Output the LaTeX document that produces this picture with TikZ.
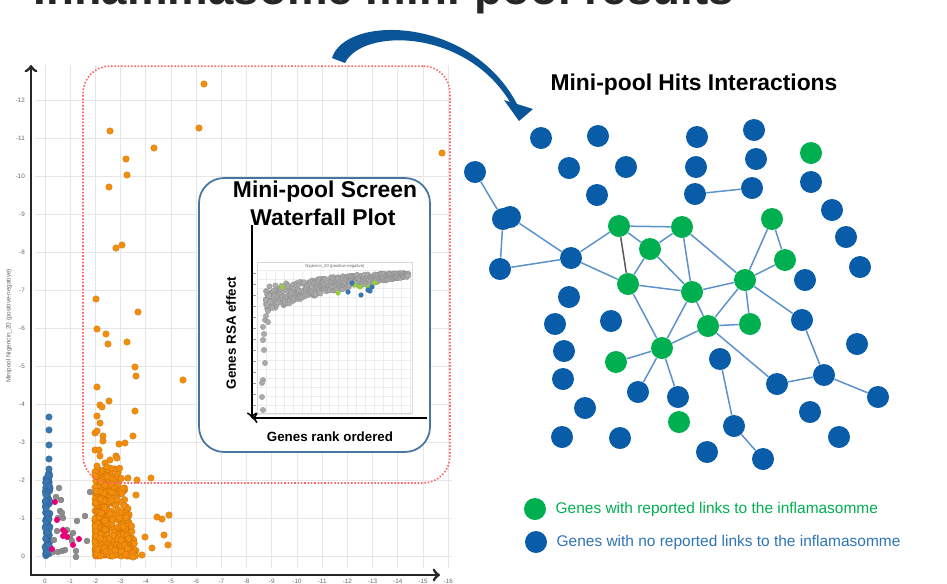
\documentclass[tikz,border=0pt]{standalone}
\usepackage{fontspec}
\setmainfont{Liberation Sans}
\usetikzlibrary{positioning}

\definecolor{netblue}{RGB}{8,92,168}
\definecolor{netgreen}{RGB}{0,176,80}
\definecolor{linkblue}{RGB}{92,146,204}
\definecolor{hitorange}{RGB}{242,142,12}
\definecolor{hitedge}{RGB}{205,110,0}
\definecolor{ctrlblue}{RGB}{58,118,178}
\definecolor{ctrlpink}{RGB}{232,0,122}
\definecolor{arcblue}{RGB}{10,84,152}
\definecolor{insetblue}{RGB}{70,118,160}
\definecolor{legblue}{RGB}{46,117,182}
\definecolor{gridgray}{RGB}{230,230,230}
\definecolor{boxred}{RGB}{255,100,100}
\definecolor{limegreen}{RGB}{150,205,60}

\begin{document}
\begin{tikzpicture}[
  x=0.02cm, y=-0.02cm,
  bnode/.style={circle,fill=netblue,minimum size=4.4mm,inner sep=0pt},
  gnode/.style={circle,fill=netgreen,minimum size=4.4mm,inner sep=0pt},
  link/.style={draw=linkblue,line width=0.85pt},
  tick/.style={font=\fontsize{3.6}{4}\selectfont,text=black!60,inner sep=0.5pt},
  head/.style={font=\bfseries\fontsize{13}{15}\selectfont,inner sep=0pt},
  axlbl/.style={font=\bfseries\fontsize{7.6}{9}\selectfont,inner sep=0pt},
  legtxt/.style={font=\fontsize{8.8}{10}\selectfont,inner sep=0pt},
  hitdot/.style={fill=hitorange,draw=hitedge,line width=0.15pt},
  ctrldot/.style={fill=ctrlblue,draw=ctrlblue!80!black,line width=0.15pt},
  greydot/.style={fill=black!45,draw=black!55,line width=0.15pt},
  wfdot/.style={fill=black!33,draw=black!45,line width=0.15pt}
  ]
  \clip (0,0) rectangle (947,583);

  % page title, cut by the top edge
  \node (pgttl) [anchor=base west,inner sep=0pt,text=black!85,
    font=\bfseries\fontsize{26}{30}\selectfont] at (33,4) {Inflammasome mini-pool results};

  % scatter plot grid and ticks
  \foreach \k in {0,...,16}
    \draw[gridgray,line width=0.4pt] (45+25.2*\k,65) -- (45+25.2*\k,568);
  \foreach \k in {0,...,12}
    \draw[gridgray,line width=0.4pt] (35,556-38*\k) -- (452,556-38*\k);
  \foreach \k in {0,...,12}
    \node[tick,anchor=east] at (26,556-38*\k) {\ifnum\k=0 0\else -\k\fi};
  \foreach \k in {0,...,16}
    \node[tick,anchor=north] at (45+25.2*\k,578) {\ifnum\k=0 0\else -\k\fi};
  \node (ylbl) [tick,rotate=90] at (9,326) {Minipool Nigericin\_20 (positive-negative)};

  % control genes
  \pgfmathsetseed{7}
  \foreach \i in {1,...,70}{
    \pgfmathsetmacro\sy{556-84*rnd}
    \pgfmathsetmacro\sx{45+5*rnd}
    \path[ctrldot] (\sx,\sy) circle (3.3);
  }
  \foreach \px/\py in {49/417,49/430,49/445,49/459,49/469,48/475}
    \path[ctrldot] (\px,\py) circle (3.3);
  \foreach \px/\py in {59/488,56/497,61/500,90/492,60/511,62/513,63/518,58/518,77/521,
      85/516,57/531,67/530,73/533,70/537,72/541,87/541,54/540,58/552,62/551,65/550,
      76/551,76/557,53/552}
    \path[greydot] (\px,\py) circle (3);
  \foreach \px/\py in {55/502,57/520,63/530,65/532,63/536,67/537,73/545,79/539,52/549}
    \path[fill=ctrlpink] (\px,\py) circle (3);

  % hits
  \foreach \i in {1,...,430}{
    \pgfmathsetmacro\v{rnd}
    \pgfmathsetmacro\u{rnd}
    \pgfmathsetmacro\sy{556-88*\v^1.5}
    \pgfmathsetmacro\sx{95+(42-16*(556-\sy)/88)*\u^1.4}
    \path[hitdot] (\sx,\sy) circle (3.3);
  }
  \foreach \px/\py in {204/84,199/128,110/131,154/148,126/159,127/175,109/187,122/245,
      116/248,96/299,138/312,442/153,97/329,106/334,108/344,127/342,135/367,136/376,
      183/380,97/387,100/405,102/407,109/401,135/411,97/416,100/423,95/433,97/431,
      103/436,133/436,103/441,119/444,125/443,95/450,99/450,100/456,116/456,117/458,
      110/460,105/463,97/466,107/467,151/478,157/517,162/519,169/515,164/535,168/545,
      145/537,152/548,142/555,133/557,137/480,128/478,136/495}
    \path[hitdot] (\px,\py) circle (3.3);

  \node (hitbox) [draw=boxred,densely dotted,line width=0.9pt,rounded corners=0.54cm,
    minimum width=7.34cm,minimum height=8.34cm] at (266.5,274.5) {};
  \draw[line width=1.6pt,<->,black!85] (31,65) -- (31,575) -- (440,575);

  % waterfall inset
  \node (wfbox) [draw=insetblue,fill=white,line width=1pt,rounded corners=0.5cm,
    minimum width=4.62cm,minimum height=5.48cm] at (314.5,315) {};
  \node (wft1) [head,anchor=base] at (325,197) {Mini-pool Screen};
  \node (wft2) [head,anchor=base] at (323,225) {Waterfall Plot};

  \foreach \k in {0,...,17}
    \draw[black!7,line width=0.2pt] (257+9*\k,270) -- (257+9*\k,413);
  \foreach \k in {0,...,16}
    \draw[black!7,line width=0.2pt] (257,270+9*\k) -- (412,270+9*\k);
  \draw[black!15,line width=0.3pt] (257,262) rectangle (412,413);
  \node (wfsub) [font=\fontsize{2.4}{3}\selectfont,text=black!60,inner sep=0pt] at (335,266)
    {Nigericin\_20 (positive-negative)};
  \foreach \k in {0,...,12}
    \draw[black!40,line width=0.3pt] (252,273+11*\k) -- (256,273+11*\k);

  \foreach \i in {0,...,120}{
    \pgfmathsetmacro\t{\i/120}
    \pgfmathsetmacro\wx{266+142*\t}
    \pgfmathsetmacro\wy{273+14*(1-\t)^2}
    \pgfmathsetmacro\wb{4+20*(1-\t)}
    \foreach \k in {1,2,3,4}{
      \pgfmathsetmacro\wz{\wy+\wb*rnd}
      \path[wfdot] (\wx,\wz) circle (2.7);
    }
  }
  \foreach \px/\py in {265/320,263/327,263/340,265/363,263/380,262/383,262/397,263/410,
      266/300,267/305,268/311,266/316,269/296,264/334,264/350,270/302,272/308,268/322}
    \path[wfdot] (\px,\py) circle (2.7);
  \foreach \px/\py in {282/287,338/293,355/285,360/287,368/287,375/283}
    \path[fill=limegreen] (\px,\py) circle (2.6);
  \foreach \px/\py in {348/292,361/295,352/283,368/290,372/287,370/291}
    \path[fill=ctrlblue] (\px,\py) circle (2.6);

  \draw[line width=1.1pt,->] (252,225) -- (252,418);
  \draw[line width=1.1pt,->] (427,418) -- (252,418);
  \node (wfylbl) [axlbl,rotate=90] at (231,333) {Genes RSA effect};
  \node (wfxlbl) [axlbl] at (330,437) {Genes rank ordered};

  % curved arrow to the network
  \fill[arcblue] (332,58) .. controls (345,15) and (470,15) .. (517,104) -- (533,109)
    -- (519,121) -- (504,100) -- (510,102) .. controls (465,28) and (362,28) .. (345,63) -- cycle;

  % interaction network
  \node (netttl) [head] at (694,85) {Mini-pool Hits Interactions};

  \foreach \nm/\px/\py in {b1/541/138,b2/598/136,b3/697/137,b4/754/130,b5/475/172,
      b6/569/168,b7/626/167,b8/696/167,b9/756/159,b10/811/182,b11/597/195,b12/695/194,
      b13/752/188,b14/832/210,b15a/503/219,b15b/510/217,b16/846/237,b17/500/269,
      b18/571/258,b19/860/267,b20/805/280,b21/569/297,b22/555/324,b23/611/321,
      b24/802/320,b25/857/344,b26/564/351,b27/720/359,b28/563/379,b29/777/384,
      b30/824/375,b31/638/392,b32/678/397,b33/878/397,b34/585/408,b35/810/412,
      b36/734/426,b37/562/437,b38/620/438,b39/839/437,b40/707/452,b41/763/459}
    \node (\nm) [bnode] at (\px,\py) {};
  \foreach \nm/\px/\py in {g1/811/153,g2/619/226,g3/682/227,g4/772/219,g5/650/249,
      g6/785/260,g7/628/284,g8/692/292,g9/745/280,g10/708/326,g11/750/324,
      g12/662/348,g13/616/362,g14/679/422}
    \node (\nm) [gnode] at (\px,\py) {};

  \foreach \a/\b in {b5/b15a,b15a/b17,b15b/b18,b17/b18,b18/g2,b18/g7,g2/g3,g2/g5,
      g5/g3,g5/g7,g5/g8,g3/g8,g3/g9,g7/g8,g8/g9,g4/g9,g4/g6,g6/g9,g9/b24,g9/g10,
      g9/g11,g8/g10,g8/g12,g7/g12,g10/g11,g10/g12,g10/b29,g12/g13,g12/b31,g12/b32,
      b27/b36,b36/b41,b29/b30,b30/b24,b30/b33,b12/b13}
    \draw[link] (\a) -- (\b);
  \draw[black!65,line width=0.85pt] (g2) -- (g7);

  % legend
  \node (lgg) [gnode] at (535,509) {};
  \node (lggt) [legtxt,text=netgreen,right=1.8mm of lgg] {Genes with reported links to the inflamasomme};
  \node (lgb) [bnode] at (536,542) {};
  \node (lgbt) [legtxt,text=legblue,right=1.8mm of lgb] {Genes with no reported links to the inflamasomme};
\end{tikzpicture}
\end{document}
